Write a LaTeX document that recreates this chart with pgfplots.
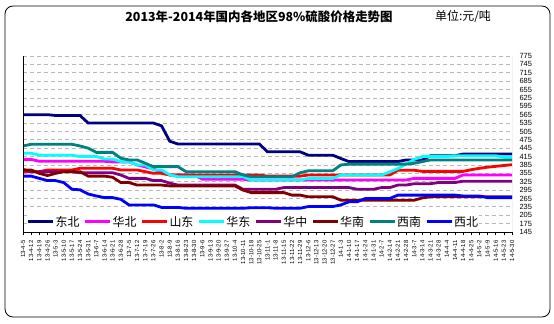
\documentclass[border=0pt]{standalone}
\usepackage{pgfplots}
\pgfplotsset{compat=1.18}
\usepackage{pgfplotstable}
\usepackage{fontspec}
\setmainfont{Liberation Sans}
\newfontfamily\cjk{Noto Sans CJK SC}
\definecolor{cDB}{RGB}{0,0,128}
\definecolor{cHB}{RGB}{255,0,255}
\definecolor{cSD}{RGB}{255,0,0}
\definecolor{cHD}{RGB}{0,255,255}
\definecolor{cHZ}{RGB}{128,0,128}
\definecolor{cHN}{RGB}{128,0,0}
\definecolor{cXN}{RGB}{0,128,128}
\definecolor{cXB}{RGB}{0,0,255}
\pgfplotstableread{
i DB HB SD HD HZ HN XN XB
0 565 405 361 427 369 367 453 345
1 565 405 361 427 361 367 459 345
2 565 398 361 420 361 355 459 337
3 565 398 367 420 361 347 459 329
4 562 398 367 420 361 355 459 329
5 562 398 367 420 361 361 459 322
6 562 398 367 420 361 361 459 298
7 562 398 373 415 357 361 453 296
8 535 398 373 415 357 345 445 281
9 535 398 373 415 357 345 430 274
10 535 398 373 406 357 345 430 268
11 535 396 373 406 357 341 430 268
12 535 396 367 397 349 322 409 262
13 535 396 367 397 337 322 403 242
14 535 385 367 385 337 313 403 242
15 535 378 361 385 337 313 391 242
16 535 370 355 367 329 313 379 242
17 525 360 355 367 329 313 379 233
18 470 349 349 350 320 310 379 233
19 460 349 349 343 313 310 379 233
20 460 349 349 343 313 310 361 230
21 460 349 349 343 313 310 361 230
22 460 334 349 343 313 310 361 230
23 460 334 349 343 313 310 361 230
24 460 334 349 343 313 310 361 230
25 460 334 349 343 313 310 361 230
26 460 334 349 343 313 310 361 230
27 460 334 349 343 298 295 349 230
28 460 331 349 331 298 286 343 232
29 460 331 349 331 298 286 343 232
30 432 331 345 331 298 286 343 232
31 432 331 345 331 298 286 343 230
32 432 331 345 331 304 286 343 230
33 432 331 345 331 304 277 343 230
34 432 331 345 331 304 277 357 230
35 420 331 349 337 304 271 364 236
36 420 331 349 337 304 271 364 236
37 420 331 349 337 304 271 364 236
38 420 331 349 337 304 271 364 236
39 408 331 349 349 304 259 385 242
40 397 331 349 349 304 259 388 253
41 397 331 349 349 298 259 388 253
42 397 331 349 349 298 259 388 265
43 397 331 349 349 298 259 388 265
44 397 331 349 349 304 259 388 265
45 397 331 349 360 304 259 388 265
46 397 331 366 372 313 259 388 277
47 403 331 366 388 313 259 388 277
48 403 337 366 405 318 259 391 277
49 403 337 362 415 318 267 397 277
50 418 337 362 415 318 271 403 277
51 418 337 362 415 322 271 403 277
52 418 337 362 415 322 271 403 277
53 418 337 362 418 322 271 403 277
54 424 349 362 418 327 271 403 274
55 424 349 368 418 327 271 403 274
56 424 349 373 418 327 271 403 274
57 424 349 377 418 327 271 403 268
58 424 349 380 418 327 271 403 268
59 424 349 383 413 327 271 403 268
60 424 349 386 413 327 271 403 268
}\data
\begin{document}
\begin{tikzpicture}[x=1bp,y=1bp]
\useasboundingbox (0,0) rectangle (554,323);
\draw[black, line width=0.8bp, rounded corners=8bp] (5,6) rectangle (550,317);
\node[font=\cjk\bfseries\fontsize{12.5}{14}\selectfont] at (259,306) {2013年-2014年国内各地区98\%硫酸价格走势图};
\node[font=\cjk\fontsize{12}{14}\selectfont] at (463,306) {单位:元/吨};
\begin{axis}[
  at={(23bp,91bp)}, anchor=south west,
  scale only axis, width=489bp, height=176bp,
  xmin=0, xmax=60, ymin=145, ymax=775,
  xtick={0,...,60},
  xticklabels={13-4-5,13-4-12,13-4-19,13-4-26,13-5-3,13-5-10,13-5-17,13-5-24,13-5-31,13-6-7,13-6-14,13-6-21,13-6-28,13-7-5,13-7-12,13-7-19,13-7-26,13-8-2,13-8-9,13-8-16,13-8-23,13-8-30,13-9-6,13-9-13,13-9-20,13-9-27,13-10-4,13-10-11,13-10-18,13-10-25,13-11-1,13-11-8,13-11-15,13-11-22,13-11-29,13-12-6,13-12-13,13-12-20,13-12-27,14-1-3,14-1-10,14-1-17,14-1-24,14-1-31,14-2-7,14-2-14,14-2-21,14-2-28,14-3-7,14-3-14,14-3-21,14-3-28,14-4-4,14-4-11,14-4-18,14-4-25,14-5-2,14-5-9,14-5-16,14-5-23,14-5-30},
  ytick={145,175,...,775},
  yticklabel pos=right,
  xtick pos=bottom,
  tick align=outside,
  major tick length=3bp,
  ytick style={draw=none},
  xtick style={black, line width=0.6bp},
  axis line style={draw=none},
  ymajorgrids,
  major grid style={color=black!28, dash pattern=on 4bp off 3bp, line width=0.8bp},
  tick label style={font=\fontsize{7.5}{8}\selectfont},
  xticklabel style={rotate=90, anchor=east, font=\fontsize{6}{6}\selectfont},
  xticklabel shift=2bp,
  yticklabel style={anchor=west, xshift=1bp},
  /pgf/number format/assume math mode=true,
  legend style={at={(0.47,0.057)}, anchor=center, legend columns=8, draw=none, fill=white, inner sep=0bp, nodes={inner sep=1bp}, font=\cjk\fontsize{12}{12}\selectfont, /tikz/every even column/.append style={column sep=3bp}},
  legend image code/.code={\draw[#1, line width=3bp] (0bp,0bp) -- (25bp,0bp);},
  every axis plot/.append style={line width=2.8bp, sharp plot, no markers},
]
\addplot[color=cDB] table[x=i,y=DB]{\data}; \addlegendentry{东北}
\addplot[color=cHB] table[x=i,y=HB]{\data}; \addlegendentry{华北}
\addplot[color=cSD] table[x=i,y=SD]{\data}; \addlegendentry{山东}
\addplot[color=cHD] table[x=i,y=HD]{\data}; \addlegendentry{华东}
\addplot[color=cHZ] table[x=i,y=HZ]{\data}; \addlegendentry{华中}
\addplot[color=cHN] table[x=i,y=HN]{\data}; \addlegendentry{华南}
\addplot[color=cXN] table[x=i,y=XN]{\data}; \addlegendentry{西南}
\addplot[color=cXB] table[x=i,y=XB]{\data}; \addlegendentry{西北}
\draw[black, line width=0.8bp] (rel axis cs:0,1) -- (rel axis cs:0,0) -- (rel axis cs:1,0);
\draw[black!45, line width=0.8bp] (rel axis cs:1,0) -- (rel axis cs:1,1);
\end{axis}
\end{tikzpicture}
\end{document}
